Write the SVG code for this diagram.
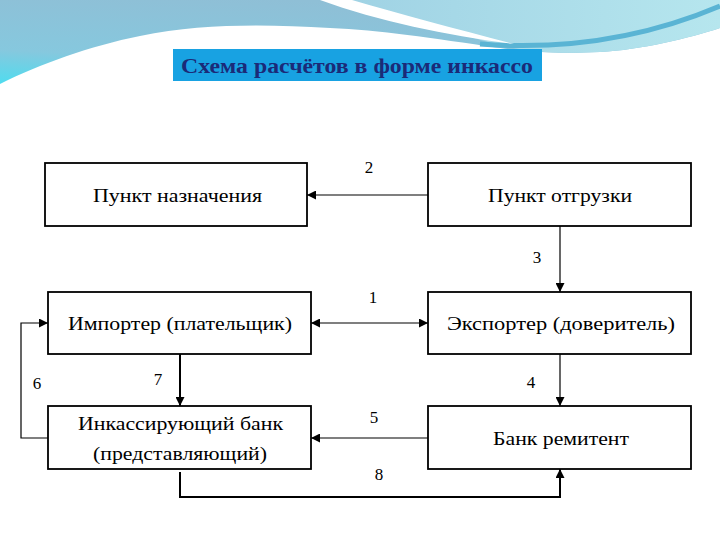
<svg xmlns="http://www.w3.org/2000/svg" width="720" height="540" viewBox="0 0 720 540">
<defs>
<linearGradient id="skyL" x1="0" y1="1" x2="0.4" y2="0">
<stop offset="0" stop-color="#4fdcef"/>
<stop offset="0.35" stop-color="#86c8de"/>
<stop offset="1" stop-color="#8fbfd6"/>
</linearGradient>
<linearGradient id="skyR" x1="0" y1="0" x2="1" y2="0">
<stop offset="0" stop-color="#9fd2e4"/>
<stop offset="1" stop-color="#b6e6ee"/>
</linearGradient>
<marker id="ah" viewBox="0 0 10 10" refX="10" refY="5" markerWidth="9" markerHeight="9" markerUnits="userSpaceOnUse" orient="auto-start-reverse">
<path d="M0,0 L10,5 L0,10 Z" fill="#000"/>
</marker>
<style>
.box{fill:#fff;stroke:#000;stroke-width:1.8}
.lbl{font-size:18px;fill:#000}
.num{font-size:17px;fill:#000;text-anchor:middle}
.ln{fill:none;stroke:#000;stroke-width:1.2}
.thk{fill:none;stroke:#000;stroke-width:2}
</style>
</defs>
<rect width="720" height="540" fill="#fff"/>
<g id="decor">
<path d="M0,0 H720 V28 C690,38 640,50 600,52 C560,54 530,52 500,48 C430,38 380,30 330,28 C260,24 200,24 140,36 C90,46 40,64 0,84 Z" fill="url(#skyL)"/>
<path d="M340,0 H720 V28 C690,38 640,50 600,52 C560,54 530,52 505,46 C470,38 420,22 340,0 Z" fill="url(#skyR)"/>
<path d="M480,44 C560,50 640,40 720,6" fill="none" stroke="#5ab4d4" stroke-width="5"/>
<path d="M320,0 L352,0 C400,14 460,30 514,44 C450,36 380,22 320,0 Z" fill="#fff"/>
</g>
<g id="title">
<rect x="173" y="49" width="369" height="32" fill="#18a2e2"/>
<text x="357" y="73" text-anchor="middle" font-family="'Liberation Serif','Times New Roman','DejaVu Serif',serif" font-size="21" font-weight="bold" fill="#1b2a78" textLength="352" lengthAdjust="spacingAndGlyphs">Схема расчётов в форме инкассо</text>
</g>
<g id="connectors" font-family="'Liberation Serif','Times New Roman','DejaVu Serif',serif">
<line class="ln" x1="428" y1="195" x2="307" y2="195" marker-end="url(#ah)"/>
<line class="ln" x1="560" y1="226" x2="560" y2="292" marker-end="url(#ah)"/>
<line class="ln" x1="311" y1="323" x2="428" y2="323" marker-start="url(#ah)" marker-end="url(#ah)"/>
<line class="ln" x1="560" y1="354" x2="560" y2="406" marker-end="url(#ah)"/>
<line class="ln" x1="428" y1="438" x2="311" y2="438" marker-end="url(#ah)"/>
<path class="ln" d="M48,438 H21 V323 H48" marker-end="url(#ah)"/>
<line class="thk" x1="180" y1="354" x2="180" y2="406" marker-end="url(#ah)"/>
<path class="thk" d="M180,472 V497 H560 V469" marker-end="url(#ah)"/>
<text class="num" x="369" y="173">2</text>
<text class="num" x="537" y="263">3</text>
<text class="num" x="373" y="303">1</text>
<text class="num" x="531" y="388">4</text>
<text class="num" x="374" y="423">5</text>
<text class="num" x="37" y="389">6</text>
<text class="num" x="158" y="385">7</text>
<text class="num" x="379" y="480">8</text>
</g>
<g font-family="'Liberation Serif','Times New Roman','DejaVu Serif',serif">
<g id="punkt-naznacheniya">
<rect class="box" x="45" y="163" width="262" height="63"/>
<text class="lbl" x="93" y="202" textLength="169" lengthAdjust="spacingAndGlyphs">Пункт назначения</text>
</g>
<g id="punkt-otgruzki">
<rect class="box" x="428" y="163" width="263" height="63"/>
<text class="lbl" x="488" y="202" textLength="144" lengthAdjust="spacingAndGlyphs">Пункт отгрузки</text>
</g>
<g id="importer">
<rect class="box" x="48" y="292" width="263" height="62"/>
<text class="lbl" x="68" y="330" textLength="224" lengthAdjust="spacingAndGlyphs">Импортер (плательщик)</text>
</g>
<g id="exporter">
<rect class="box" x="428" y="292" width="263" height="62"/>
<text class="lbl" x="447" y="330" textLength="228" lengthAdjust="spacingAndGlyphs">Экспортер (доверитель)</text>
</g>
<g id="inkass-bank">
<rect class="box" x="48" y="406" width="263" height="63"/>
<text class="lbl" x="78" y="430" textLength="205" lengthAdjust="spacingAndGlyphs">Инкассирующий банк</text>
<text class="lbl" x="93" y="460" textLength="174" lengthAdjust="spacingAndGlyphs">(представляющий)</text>
</g>
<g id="bank-remitent">
<rect class="box" x="428" y="406" width="263" height="63"/>
<text class="lbl" x="493" y="445" textLength="136" lengthAdjust="spacingAndGlyphs">Банк ремитент</text>
</g>
</g>
</svg>
